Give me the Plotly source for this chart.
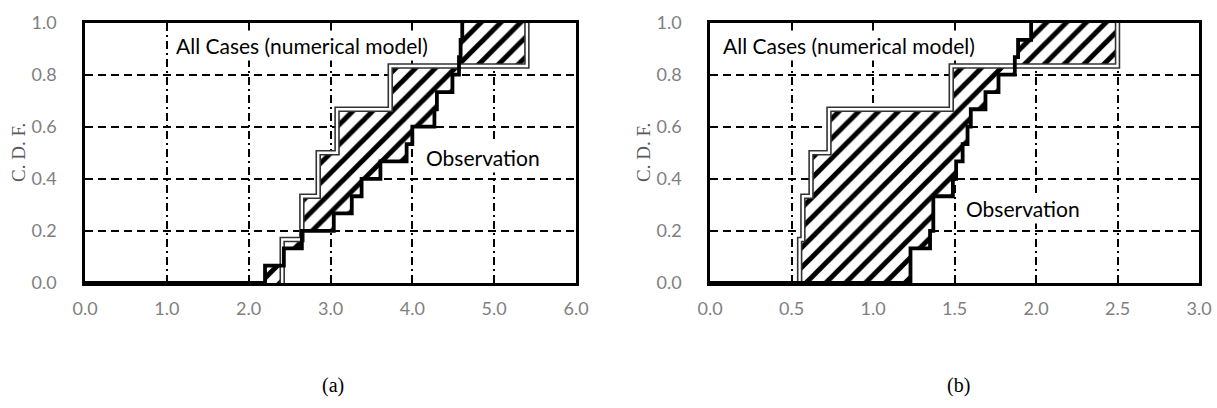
import plotly.graph_objects as go

# ---------------- data ----------------
# panel (a)
a_model_x = [2.41, 2.65, 2.85, 3.08, 3.73, 5.40]
a_model_cdf = [0.167, 0.333, 0.500, 0.667, 0.833, 1.000]
a_obs_x = [2.20, 2.43, 2.65, 3.04, 3.26, 3.38, 3.61, 3.93, 4.00, 4.27, 4.30, 4.49, 4.57, 4.59, 4.61]
a_obs_cdf = [0.067, 0.133, 0.200, 0.267, 0.333, 0.400, 0.467, 0.533, 0.600, 0.667, 0.733, 0.800, 0.867, 0.933, 1.000]

# panel (b)
b_model_x = [0.55, 0.57, 0.62, 0.73, 1.48, 2.50]
b_model_cdf = [0.167, 0.333, 0.500, 0.667, 0.833, 1.000]
b_obs_x = [1.23, 1.35, 1.37, 1.49, 1.51, 1.55, 1.58, 1.60, 1.69, 1.77, 1.87, 1.89, 1.97]
b_obs_cdf = [0.133, 0.200, 0.333, 0.400, 0.467, 0.533, 0.600, 0.667, 0.733, 0.800, 0.867, 0.933, 1.000]

a_xticks = [0, 1, 2, 3, 4, 5, 6]
b_xticks = [0, 0.5, 1.0, 1.5, 2.0, 2.5, 3.0]
yticks = [0, 0.2, 0.4, 0.6, 0.8, 1.0]

W, H = 1217, 408


def step_path(x0, xs, ys):
    px, py = [x0], [0.0]
    prev = 0.0
    for x, y in zip(xs, ys):
        px += [x, x]
        py += [prev, y]
        prev = y
    return px, py


def px2x(p):
    return p / W


def py2y(p):
    return 1 - p / H


fig = go.Figure()


def add_panel(xa, ya, mx, my, ox, oy):
    # hatched region between the two step curves
    opx, opy = step_path(ox[0], ox, oy)
    mpx, mpy = step_path(mx[0], mx, my)
    polx = opx + mpx[::-1]
    poly = opy + mpy[::-1]
    fig.add_trace(go.Scatter(
        x=polx, y=poly, xaxis=xa, yaxis=ya, mode="lines", fill="toself",
        fillcolor="white",
        fillpattern=dict(shape="/", fgcolor="black", bgcolor="white", fgopacity=1,
                         size=14, solidity=0.36),
        line=dict(width=0), hoverinfo="skip", showlegend=False))
    # model (double line)
    m_lx, m_ly = step_path(mx[0], mx, my)
    fig.add_trace(go.Scatter(x=m_lx, y=m_ly, xaxis=xa, yaxis=ya, mode="lines",
                             line=dict(color="#333333", width=5.5), showlegend=False))
    fig.add_trace(go.Scatter(x=m_lx, y=m_ly, xaxis=xa, yaxis=ya, mode="lines",
                             line=dict(color="white", width=2.3), showlegend=False))
    # observation (thick black)
    o_lx, o_ly = step_path(0.0, ox, oy)
    fig.add_trace(go.Scatter(x=o_lx, y=o_ly, xaxis=xa, yaxis=ya, mode="lines",
                             line=dict(color="black", width=3.8), showlegend=False))


add_panel("x", "y", a_model_x, a_model_cdf, a_obs_x, a_obs_cdf)
add_panel("x2", "y2", b_model_x, b_model_cdf, b_obs_x, b_obs_cdf)

tickfont = dict(family="Lato", size=18, color="#7f7f7f")
common_x = dict(showgrid=True, gridcolor="black", gridwidth=1.6, griddash="8px,4px,2px,4px",
                showline=True, mirror=True, linecolor="black", linewidth=2.5,
                zeroline=False, ticks="", tickfont=tickfont, tickformat=".1f",
                ticklabelstandoff=8, fixedrange=True, automargin=False)
common_y = dict(showgrid=True, gridcolor="black", gridwidth=1.6, griddash="8px,5px",
                showline=True, mirror=True, linecolor="black", linewidth=2.5,
                zeroline=False, ticks="", tickfont=tickfont, tickformat=".1f",
                tickvals=yticks, range=[0, 1], ticklabelstandoff=22, fixedrange=True,
                automargin=False)

ydom = [py2y(283), py2y(22.5)]

fig.update_layout(
    width=W, height=H, autosize=False,
    margin=dict(l=0, r=0, t=0, b=0, pad=0, autoexpand=False),
    paper_bgcolor="white", plot_bgcolor="white",
    xaxis=dict(domain=[px2x(85), px2x(576)], range=[0, 6], tickvals=a_xticks, anchor="y", **common_x),
    yaxis=dict(domain=ydom, anchor="x", **common_y),
    xaxis2=dict(domain=[px2x(710), px2x(1199)], range=[0, 3], tickvals=b_xticks, anchor="y2", **common_x),
    yaxis2=dict(domain=ydom, anchor="x2", **common_y),
    showlegend=False,
)

ann_font = dict(family="Lato", size=21, color="black")
serif = dict(family="Liberation Serif", size=19, color="#595959")
annotations = [
    dict(text="All Cases (numerical model)", x=px2x(173), y=py2y(45), xanchor="left", yanchor="middle",
         font=ann_font, bgcolor="white", borderpad=2),
    dict(text="Observation", x=px2x(423), y=py2y(157), xanchor="left", yanchor="middle",
         font=ann_font, bgcolor="white", borderpad=2),
    dict(text="All Cases (numerical model)", x=px2x(720), y=py2y(45), xanchor="left", yanchor="middle",
         font=ann_font, bgcolor="white", borderpad=2),
    dict(text="Observation", x=px2x(963), y=py2y(209), xanchor="left", yanchor="middle",
         font=ann_font, bgcolor="white", borderpad=2),
    dict(text="C. D. F.", x=px2x(18), y=py2y(153), textangle=-90, xanchor="center", yanchor="middle",
         font=serif),
    dict(text="C. D. F.", x=px2x(643), y=py2y(153), textangle=-90, xanchor="center", yanchor="middle",
         font=serif),
    dict(text="(a)", x=px2x(333), y=py2y(385), xanchor="center", yanchor="middle",
         font=dict(family="Liberation Serif", size=20, color="black")),
    dict(text="(b)", x=px2x(958), y=py2y(385), xanchor="center", yanchor="middle",
         font=dict(family="Liberation Serif", size=20, color="black")),
]
for a in annotations:
    a.update(xref="paper", yref="paper", showarrow=False)
fig.update_layout(annotations=annotations)

fig.write_html("out.html")
